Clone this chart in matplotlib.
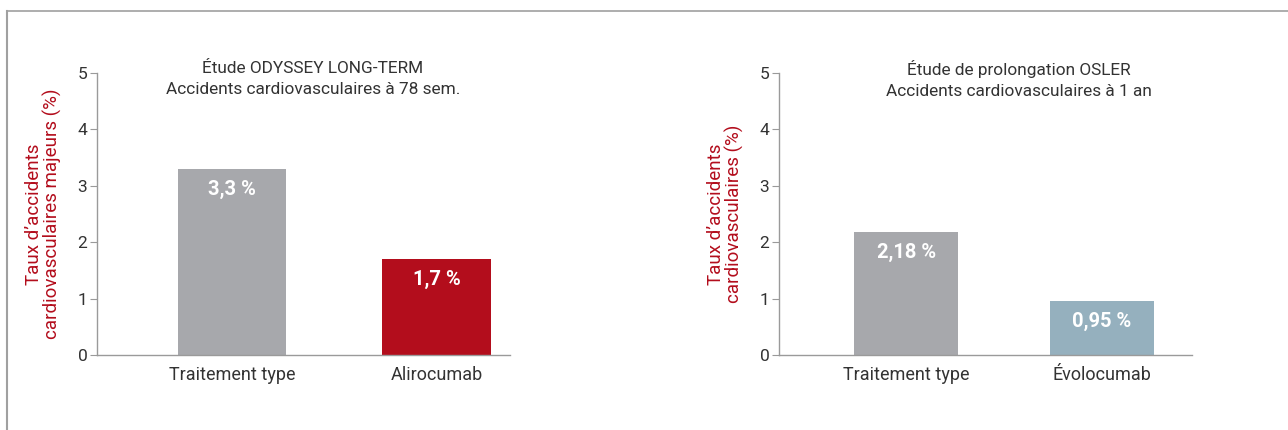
import matplotlib
matplotlib.use("Agg")
import matplotlib.pyplot as plt
from matplotlib.lines import Line2D

plt.rcParams["font.family"] = ["Roboto", "DejaVu Sans"]

# données des deux études
categories_odyssey = ["Traitement type", "Alirocumab"]
valeurs_odyssey = [3.3, 1.7]
etiquettes_odyssey = ["3,3 %", "1,7 %"]

categories_osler = ["Traitement type", "Évolocumab"]
valeurs_osler = [2.18, 0.95]
etiquettes_osler = ["2,18 %", "0,95 %"]

yticks = [0, 1, 2, 3, 4, 5]

ROUGE = "#b30d1c"
GRIS = "#a7a8ac"
BLEU = "#95b0be"
TEXTE = "#333333"
AXE = "#9a9a9a"

W, H = 1288, 430
fig = plt.figure(figsize=(W / 100, H / 100), dpi=100)


def px_axes(x0, x1, ytop, ybot):
    return fig.add_axes([x0 / W, (H - ybot) / H, (x1 - x0) / W, (ybot - ytop) / H])


def panneau(ax, cats, vals, labels, couleurs, xlim, titre, ylabel, titre_x):
    x = range(len(cats))
    ax.bar(x, vals, width=0.53, color=couleurs, zorder=2)
    for xi, v, lab in zip(x, vals, labels):
        ax.annotate(lab, (xi, v), xytext=(0, -14.5), textcoords="offset points",
                    ha="center", va="center", color="white",
                    fontsize=14.5, fontweight="bold")
    ax.set_xlim(*xlim)
    ax.set_ylim(0, 5)
    ax.set_yticks(yticks)
    ax.set_xticks(list(x))
    ax.set_xticklabels(cats)
    for s in ["top", "right"]:
        ax.spines[s].set_visible(False)
    for s in ["left", "bottom"]:
        ax.spines[s].set_color(AXE)
        ax.spines[s].set_linewidth(1.0)
    ax.tick_params(axis="y", length=5, color=AXE, labelsize=12.5,
                   labelcolor=TEXTE, pad=2)
    ax.tick_params(axis="x", length=0, labelsize=13, labelcolor=TEXTE, pad=8)
    ax.set_ylabel(ylabel, color=ROUGE, fontsize=13.5, labelpad=11, linespacing=1.0)
    ax.text(titre_x, 0.978, titre, transform=ax.transAxes, ha="center",
            va="center", fontsize=12.4, color=TEXTE, linespacing=1.5)


ax1 = px_axes(97, 510, 73, 355)
panneau(ax1, categories_odyssey, valeurs_odyssey, etiquettes_odyssey,
        [GRIS, ROUGE], (-0.66, 1.36),
        "Étude ODYSSEY LONG-TERM\nAccidents cardiovasculaires à 78 sem.",
        "Taux d\u2019accidents\ncardiovasculaires majeurs (%)", 0.523)

ax2 = px_axes(779, 1192, 73, 355)
panneau(ax2, categories_osler, valeurs_osler, etiquettes_osler,
        [GRIS, BLEU], (-0.65, 1.46),
        "Étude de prolongation OSLER\nAccidents cardiovasculaires à 1 an",
        "Taux d\u2019accidents\ncardiovasculaires (%)", 0.58)

# cadre gauche et haut
fig.add_artist(Line2D([6.5 / W, 6.5 / W], [0, (H - 11) / H], color="#a0a0a0", lw=1.5))
fig.add_artist(Line2D([6.5 / W, 1], [(H - 11) / H, (H - 11) / H], color="#a0a0a0", lw=1.2))

fig.savefig("out.png", dpi=100)
